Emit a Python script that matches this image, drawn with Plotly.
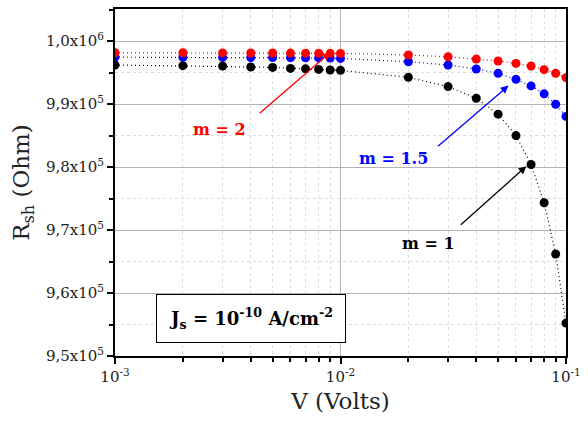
import plotly.graph_objects as go
import math

V = [0.001, 0.002, 0.003, 0.004, 0.005, 0.006, 0.007, 0.008, 0.009, 0.01,
     0.02, 0.03, 0.04, 0.05, 0.06, 0.07, 0.08, 0.09, 0.1]
R_m2 = [998150, 998150, 998130, 998120, 998110, 998100, 998090, 998080, 998060, 998050,
        997800, 997520, 997150, 996840, 996460, 996050, 995470, 994880, 994200]
R_m15 = [997450, 997430, 997410, 997400, 997390, 997370, 997350, 997330, 997310, 997250,
         996730, 996210, 995580, 994880, 993930, 992890, 991630, 989980, 988040]
R_m1 = [996210, 996100, 996050, 995890, 995820, 995670, 995600, 995510, 995420, 995360,
        994250, 992780, 990930, 988400, 985000, 980410, 974340, 966190, 955230]

y_ticks = [950000, 960000, 970000, 980000, 990000, 1000000]
y_text = ["9,5x10<sup>5</sup>", "9,6x10<sup>5</sup>", "9,7x10<sup>5</sup>",
          "9,8x10<sup>5</sup>", "9,9x10<sup>5</sup>", "1,0x10<sup>6</sup>"]
x_ticks = [0.001, 0.01, 0.1]
x_text = ["10<sup>-3</sup>", "10<sup>-2</sup>", "10<sup>-1</sup>"]
x_minor = [k * d for d in [0.001, 0.01] for k in range(2, 10)]
y_minor = [950000 + 5000 * i for i in range(12)]

FONT = "DejaVu Serif"

fig = go.Figure()
for ys, col in [(R_m1, "black"), (R_m15, "blue"), (R_m2, "red")]:
    fig.add_trace(go.Scatter(x=V, y=ys, mode="lines+markers",
                             line=dict(color=col, width=1.2, dash="1px,3px"),
                             marker=dict(color=col, size=9),
                             showlegend=False))

axis_common = dict(showline=True, linecolor="black", linewidth=2, mirror=True,
                   ticks="outside", tickcolor="black", tickwidth=2, ticklen=6,
                   showgrid=True, gridcolor="#b4b4b4", gridwidth=1,
                   tickfont=dict(family=FONT, size=15, color="#222"),
                   zeroline=False)

fig.update_xaxes(type="log", range=[-3, -1], tickvals=x_ticks, ticktext=x_text,
                 title=dict(text="V (Volts)", font=dict(family=FONT, size=23, color="#222"),
                            standoff=8),
                 minor=dict(tickvals=x_minor, ticks="outside", ticklen=4, tickwidth=1.5,
                            tickcolor="black", showgrid=True, gridcolor="#dddddd",
                            griddash="dot", gridwidth=1),
                 **axis_common)
fig.update_yaxes(range=[950000, 1005100], tickvals=y_ticks, ticktext=y_text,
                 title=dict(text="R<sub>sh</sub> (Ohm)", font=dict(family=FONT, size=23, color="#222"),
                            standoff=10),
                 minor=dict(tickvals=y_minor, ticks="outside", ticklen=4, tickwidth=1.5,
                            tickcolor="black", showgrid=True, gridcolor="#dddddd",
                            griddash="dot", gridwidth=1),
                 **axis_common)

# arrows
arrows = [
    (math.log10(0.009), 998200, -72, 62, "red"),
    (-1.255, 992940, -72, 62, "blue"),
    (-1.176, 980140, -67, 60, "black"),
]
for x, y, ax, ay, col in arrows:
    fig.add_annotation(x=x, y=y, xref="x", yref="y", ax=ax, ay=ay, axref="pixel", ayref="pixel",
                       showarrow=True, arrowhead=2, arrowsize=1.2, arrowwidth=1.3,
                       arrowcolor=col, text="")

labels = [
    (220, 128, "m = 2", "red"),
    (396, 157, "m = 1.5", "blue"),
    (431, 243, "m = 1", "black"),
]
W, H = 588, 423
L, R, T, B = 115, 18, 7, 67
pw, ph = W - L - R, H - T - B
for px, py, txt, col in labels:
    fig.add_annotation(x=(px - L) / pw, y=1 - (py - T) / ph, xref="paper", yref="paper",
                       xanchor="center", yanchor="middle",
                       text="<b>" + txt + "</b>", showarrow=False,
                       font=dict(family=FONT, size=16, color=col))

fig.add_annotation(x=(252 - L) / pw, y=1 - (318 - T) / ph, xref="paper", yref="paper",
                   xanchor="center", yanchor="middle",
                   text="<b>J<sub>s</sub> = 10<sup>-10</sup> A/cm<sup>-2</sup></b>",
                   showarrow=False, font=dict(family=FONT, size=18, color="black"),
                   bordercolor="black", borderwidth=1, bgcolor="white",
                   width=186, height=45)

fig.update_layout(width=W, height=H, margin=dict(l=L, r=R, t=T, b=B),
                  plot_bgcolor="white", paper_bgcolor="white",
                  font=dict(family=FONT))

fig.write_html("out.html")
